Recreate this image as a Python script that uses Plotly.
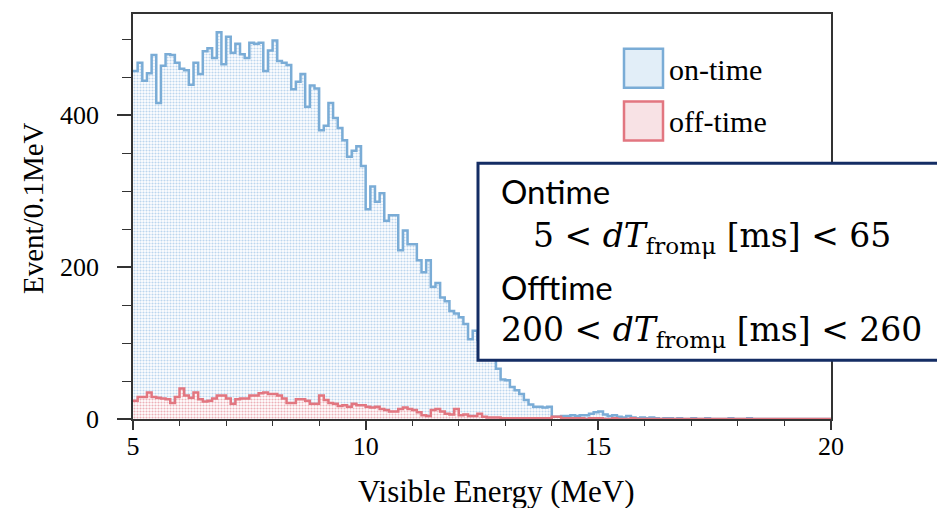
import numpy as np
import plotly.graph_objects as go

# ---------------- data ----------------
bin_start = 5.0
bin_width = 0.1

on_time = [
    458, 469, 445, 455, 479, 416, 465, 480, 479, 469,
    461, 459, 440, 469, 454, 484, 488, 475, 509, 467,
    503, 482, 494, 480, 475, 495, 494, 495, 458, 485,
    498, 471, 469, 466, 434, 444, 454, 411, 439, 435,
    380, 386, 416, 396, 383, 367, 345, 353, 359, 333,
    276, 306, 286, 297, 261, 268, 268, 222, 248, 230,
    230, 209, 193, 209, 174, 179, 160, 155, 142, 139,
    134, 125, 105, 116, 104, 96, 88, 78, 66, 52,
    51, 42, 38, 33, 25, 19, 16, 16, 15, 16,
    3, 3, 4, 4, 5, 4, 5, 5, 7, 9,
    10, 6, 4, 5, 3, 2, 4, 2, 1, 2,
    1, 2, 1, 0, 1, 1, 0, 1, 0, 0,
    1, 0, 0, 1, 0, 0, 0, 0, 1, 0,
    0, 0, 1, 0, 0, 0, 0, 0, 0, 0,
    0, 0, 0, 0, 0, 0, 0, 0, 0, 0,
]

off_time = [
    24, 29, 29, 35, 29, 28, 27, 26, 21, 29,
    40, 31, 28, 35, 26, 23, 24, 27, 31, 31,
    27, 20, 26, 27, 27, 31, 31, 34, 35, 33,
    33, 31, 27, 21, 21, 26, 26, 24, 20, 20,
    31, 25, 21, 20, 17, 18, 16, 20, 18, 18,
    16, 15, 16, 13, 12, 10, 10, 13, 15, 13,
    12, 9, 5, 4, 12, 13, 10, 7, 6, 13,
    5, 6, 4, 4, 7, 3, 2, 2, 2, 1,
    1, 1, 1, 1, 1, 1, 1, 1, 1, 1,
    3, 3, 1, 1, 1, 1, 1, 0, 1, 1,
    1, 0, 0, 1, 0, 0, 0, 1, 0, 0,
    0, 0, 0, 0, 0, 0, 0, 0, 0, 0,
    0, 0, 0, 0, 0, 0, 0, 0, 0, 0,
    0, 0, 0, 0, 0, 0, 0, 0, 0, 0,
    0, 0, 0, 0, 0, 0, 0, 0, 0, 0,
]

series_names = ["on-time", "off-time"]
x_tickvals = [5, 10, 15, 20]
y_tickvals = [0, 200, 400]
x_title = "Visible Energy (MeV)"
y_title = "Event/0.1MeV"
box_text = [
    "Ontime",
    "5 &lt; <i>dT</i><sub>fromμ</sub> [ms] &lt; 65",
    "Offtime",
    "200 &lt; <i>dT</i><sub>fromμ</sub> [ms] &lt; 260",
]

# ---------------- layout geometry ----------------
W, H = 937, 508
ML, MR, MT, MB = 133, 106, 12, 89
PW, PH = W - ML - MR, H - MT - MB


def px(x):
    return (x - ML) / PW


def py(y):
    return (H - MB - y) / PH


edges = bin_start + bin_width * np.arange(len(on_time) + 1)

BLUE = "rgb(122,172,214)"
RED = "rgb(226,118,128)"
SERIF = "Liberation Serif, Times New Roman, serif"
MATH = "DejaVu Serif, serif"
SANS = "Lato, Noto Sans, sans-serif"

fig = go.Figure()
for vals, name, lc, fg in [
    (on_time, series_names[0], BLUE, "rgb(188,214,238)"),
    (off_time, series_names[1], RED, "rgb(236,176,184)"),
]:
    fig.add_trace(go.Scatter(
        x=edges, y=list(vals) + [vals[-1]],
        mode="lines", line=dict(color=lc, width=2.5, shape="hv"),
        fill="tozeroy",
        fillcolor="rgba(0,0,0,0)",
        fillpattern=dict(shape=".", fgcolor=fg, bgcolor="white",
                         size=3, solidity=0.4, fillmode="replace"),
        name=name, showlegend=False, hoverinfo="skip",
    ))

fig.update_layout(
    width=W, height=H,
    margin=dict(l=ML, r=MR, t=MT, b=MB),
    paper_bgcolor="white", plot_bgcolor="white",
    font=dict(family=SERIF, size=26, color="black"),
)
fig.update_xaxes(
    range=[5, 20], tickvals=x_tickvals, ticks="outside", ticklen=9,
    tickwidth=1.5, tickcolor="#333", showline=True, linecolor="#333",
    linewidth=1.5, mirror=True, showgrid=False, zeroline=False,
    minor=dict(dtick=1, ticks="outside", ticklen=5, tickwidth=1.2, tickcolor="#333"),
    tickfont=dict(family=SERIF, size=26), ticklabelstandoff=-6,
)
fig.update_yaxes(
    range=[0, 533], tickvals=y_tickvals, ticks="outside", ticklen=14,
    tickwidth=1.5, tickcolor="#333", showline=True, linecolor="#333",
    linewidth=1.5, mirror=True, showgrid=False, zeroline=False,
    minor=dict(dtick=50, ticks="outside", ticklen=9, tickwidth=1.2, tickcolor="#333"),
    tickfont=dict(family=SERIF, size=26), ticklabelstandoff=13,
)

annotations = [
    dict(text=x_title, x=px(496), y=py(492), xref="paper", yref="paper",
         xanchor="center", yanchor="middle", showarrow=False,
         font=dict(family=SERIF, size=31)),
    dict(text=y_title, x=px(33), y=py(207), xref="paper", yref="paper",
         xanchor="center", yanchor="middle", showarrow=False, textangle=-90,
         font=dict(family=SERIF, size=29)),
]

# legend swatches + labels
shapes = []
legend_rows = [(47, 86, BLUE, "rgb(226,238,248)"), (100, 139, RED, "rgb(248,226,229)")]
for (y0, y1, lc, fc), name in zip(legend_rows, series_names):
    shapes.append(dict(type="rect", xref="paper", yref="paper",
                       x0=px(624), x1=px(663), y0=py(y1), y1=py(y0),
                       line=dict(color=lc, width=2.5), fillcolor=fc, layer="above"))
    annotations.append(dict(text=name, x=px(667), y=py((y0 + y1) / 2 + 1),
                            xref="paper", yref="paper", xanchor="left",
                            yanchor="middle", showarrow=False,
                            font=dict(family=SERIF, size=30)))

# condition box
shapes.append(dict(type="rect", xref="paper", yref="paper",
                   x0=px(478), x1=px(960), y0=py(360), y1=py(162),
                   line=dict(color="rgb(20,45,100)", width=3),
                   fillcolor="white", layer="above"))
box_pos = [(499, 190, SANS, 33),
           (531, 237, MATH, 33),
           (499, 286, SANS, 33),
           (499, 331, MATH, 33)]
for (x, y, fam, sz), t in zip(box_pos, box_text):
    annotations.append(dict(text=t, x=px(x), y=py(y), xref="paper", yref="paper",
                            xanchor="left", yanchor="middle", showarrow=False,
                            font=dict(family=fam, size=sz, color="black")))

fig.update_layout(shapes=shapes, annotations=annotations)
fig.write_html("out.html")
